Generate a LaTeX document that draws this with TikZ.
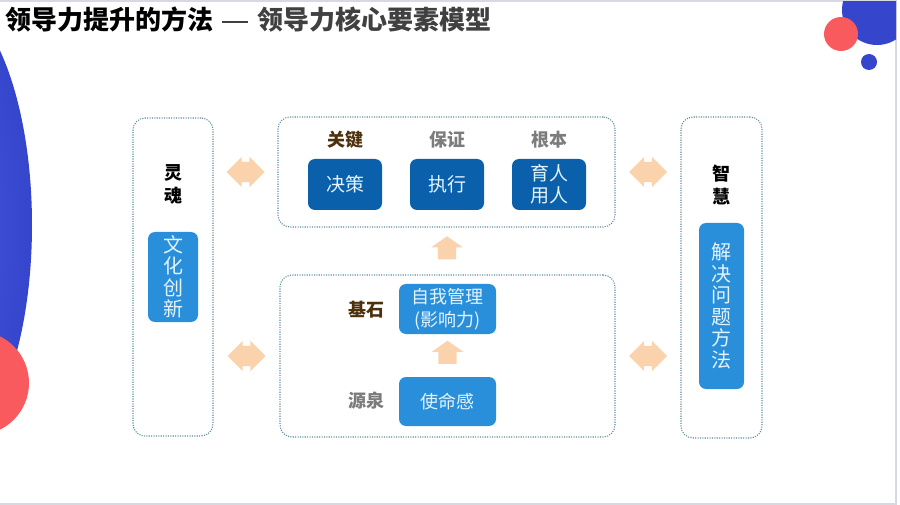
\documentclass[tikz,border=0pt]{standalone}
\usepackage{fontspec}
\setmainfont{Noto Sans CJK SC}
\usetikzlibrary{shapes.arrows,calc}

\definecolor{deepblue}{HTML}{0A60AA}
\definecolor{skyblue}{HTML}{2A8FDA}
\definecolor{paletext}{HTML}{E4F4FF}
\definecolor{peach}{HTML}{FAD3AC}
\definecolor{framedot}{HTML}{5E8C9A}
\definecolor{brownlabel}{HTML}{4D300C}
\definecolor{graylabel}{HTML}{7C7C7C}
\definecolor{titlegray}{HTML}{404040}
\definecolor{decoblue}{HTML}{3545CC}
\definecolor{decobluein}{HTML}{4A5CE0}
\definecolor{decored}{HTML}{F85A5D}
\definecolor{edgegray}{HTML}{D8D8E2}

\tikzset{
  frame/.style={draw=framedot, line width=1.1pt, dash pattern=on 1.1pt off 1.3pt,
    rounded corners=12pt, inner sep=0},
  darkbox/.style={fill=deepblue, text=paletext, rounded corners=7pt, inner sep=0,
    align=center, font=\fontsize{19}{22}\selectfont},
  lightbox/.style={fill=skyblue, text=paletext, rounded corners=7pt, inner sep=0,
    align=center, font=\fontsize{18}{23}\selectfont},
  vertbox/.style={lightbox, font=\fontsize{20}{21.5}\selectfont},
  tag/.style={inner sep=0, align=center, font=\bfseries\fontsize{18}{23}\selectfont},
  dblarrow/.style={double arrow, fill=peach, inner xsep=0, inner ysep=10,
    minimum height=38, double arrow head extend=5, double arrow tip angle=90},
  uparrow/.style={single arrow, fill=peach, inner xsep=0, inner ysep=9,
    minimum height=23, single arrow head extend=6.5, single arrow tip angle=110,
    rotate=90}
}

\begin{document}
\begin{tikzpicture}[x=1pt, y=-1pt]

  \useasboundingbox (0,0) rectangle (900,505);

  % slide edge and decoration
  \draw[edgegray, line width=1.5pt] (0,1) -- (896,1) -- (896,504) -- (0,504);
  \begin{scope}
    \clip (0,2) rectangle (896,503);
    \shade[inner color=decobluein, outer color=decoblue] (-60,225) ellipse [x radius=92, y radius=230];
    \fill[decored] (-23,383) circle [radius=52];
    \fill[decoblue] (877,10) circle [radius=35];
    \fill[decored] (841,34) circle [radius=17];
    \fill[decoblue] (869,62) circle [radius=8];
  \end{scope}

  % title
  \node[anchor=west, inner sep=0, font=\bfseries\fontsize{26}{28}\selectfont] (title) at (5,20)
    {领导力提升的方法\hspace{9pt}\textcolor{titlegray}{\makebox[26pt]{\rule[7pt]{26pt}{2.4pt}}\hspace{9pt}领导力核心要素模型}};

  % frames
  \node[frame, minimum width=80, minimum height=318] (soul) at (173,277) {};
  \node[frame, minimum width=337, minimum height=110] (core) at (446.5,172) {};
  \node[frame, minimum width=335, minimum height=162] (base) at (447.5,356) {};
  \node[frame, minimum width=81, minimum height=321] (wisdom) at (721.5,277.5) {};

  % boxes
  \node[darkbox, minimum width=74, minimum height=51] (decide) at (345,184.5) {决策};
  \node[darkbox, minimum width=74, minimum height=51] (execute) at (447,184.5) {执行};
  \node[darkbox, minimum width=74, minimum height=51] (people) at (549,184.5) {育人\\用人};
  \node[vertbox, minimum width=50, minimum height=90] (culture) at (173,277) {文\\化\\创\\新};
  \node[vertbox, minimum width=45, minimum height=166] (method) at (721.5,306) {解\\决\\问\\题\\方\\法};
  \node[lightbox, minimum width=97, minimum height=50] (self) at (447.5,309) {自我管理\\(影响力)};
  \node[lightbox, minimum width=97, minimum height=49] (mission) at (447.5,401.5) {使命感};

  % tags
  \node[tag, text=brownlabel] (key) at (345,140) {关键};
  \node[tag, text=graylabel] (guarantee) at (447,140) {保证};
  \node[tag, text=graylabel] (root) at (549,140) {根本};
  \node[tag] (soultag) at (173,184.5) {灵\\魂};
  \node[tag] (wisdomtag) at (721.5,185) {智\\慧};
  \node[tag, text=brownlabel] (stone) at (366,310) {基石};
  \node[tag, text=graylabel] (spring) at (366,401) {源泉};

  % arrows
  \node[dblarrow] (soulcore) at ($(soul.east |- core.center)!.5!(core.west)$) {};
  \node[dblarrow] (soulbase) at ($(soul.east |- base.center)!.5!(base.west)$) {};
  \node[dblarrow] (corewisdom) at ($(core.east)!.5!(wisdom.west |- core.center)$) {};
  \node[dblarrow] (basewisdom) at ($(base.east)!.5!(wisdom.west |- base.center)$) {};
  \node[uparrow] (baseup) at ($(core.south)!.5!(base.north)$) {};
  \node[uparrow] (selfup) at ($(self.south)!.5!(mission.north)$) {};

\end{tikzpicture}
\end{document}
